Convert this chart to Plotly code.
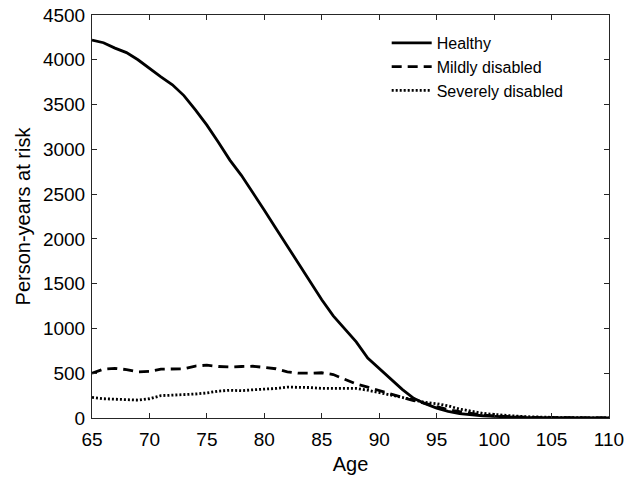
import plotly.graph_objects as go

# Person-years at risk by age for each disability state
ages = list(range(65, 111))

healthy = [4220, 4190, 4130, 4080, 4000, 3900, 3810, 3720, 3600, 3440,
           3270, 3080, 2880, 2710, 2520, 2320, 2120, 1920, 1730, 1530,
           1320, 1140, 990, 850, 670, 550, 440, 320, 220, 160,
           110, 75, 50, 35, 25, 18, 12, 8, 5, 3,
           2, 1, 1, 0, 0, 0]

mildly = [500, 545, 555, 540, 515, 520, 545, 545, 550, 580,
          590, 575, 570, 575, 578, 565, 550, 515, 500, 500,
          505, 485, 430, 380, 345, 305, 270, 230, 195, 160,
          125, 95, 70, 48, 33, 24, 16, 11, 7, 4,
          3, 2, 1, 1, 0, 0]

severely = [230, 215, 210, 205, 200, 215, 250, 255, 260, 268,
            280, 300, 310, 305, 315, 320, 330, 345, 345, 340,
            330, 330, 335, 330, 310, 285, 260, 230, 200, 175,
            160, 135, 100, 72, 52, 40, 28, 20, 14, 9,
            6, 4, 3, 2, 1, 1]

series = [
    ("Healthy", healthy, "solid"),
    ("Mildly disabled", mildly, "10px,6px"),
    ("Severely disabled", severely, "2px,2px"),
]

fig = go.Figure()
for name, values, dash in series:
    fig.add_trace(go.Scatter(
        x=ages, y=values, mode="lines", name=name,
        line=dict(color="black", width=2.8, dash=dash),
    ))

axis_common = dict(
    showgrid=False, zeroline=False, showline=True, linecolor="#262626",
    linewidth=1, mirror="allticks", ticks="inside", ticklen=5,
    tickcolor="#262626", tickfont=dict(size=19, color="black"),
    automargin=False,
)

fig.update_xaxes(range=[65, 110], dtick=5, tick0=65, ticklabelstandoff=4,
                 title=dict(text="Age", font=dict(size=20, color="black"), standoff=8),
                 **axis_common)
fig.update_yaxes(range=[0, 4500], dtick=500, tick0=0, ticklabelstandoff=2,
                 title=dict(text="Person-years at risk", font=dict(size=20, color="black"), standoff=6),
                 **axis_common)

fig.update_layout(
    width=640, height=481,
    margin=dict(l=92, r=31, t=15, b=63),
    paper_bgcolor="white", plot_bgcolor="white",
    font=dict(family="Liberation Sans, Arial, sans-serif", color="black"),
    legend=dict(x=0.57, y=0.973, xanchor="left", yanchor="top",
                bgcolor="rgba(0,0,0,0)", font=dict(size=16),
                tracegroupgap=0, itemwidth=40),
    showlegend=True,
)

fig.write_html("out.html")
